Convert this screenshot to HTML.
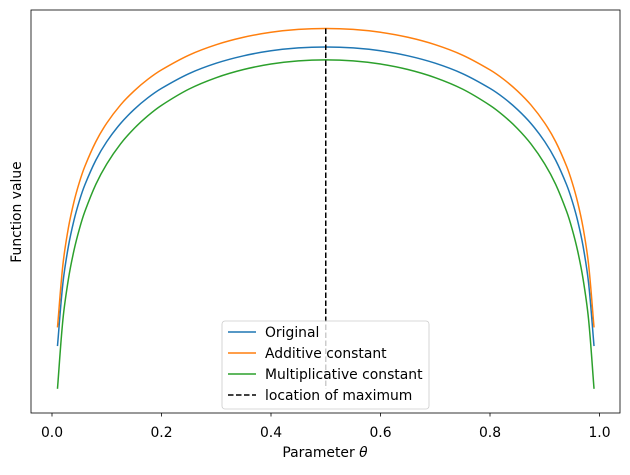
<!DOCTYPE html>
<html><head><meta charset="utf-8"><style>
body{margin:0;background:#fff}
svg text{font-family:"DejaVu Sans","Liberation Sans",sans-serif;font-size:13.9px;fill:#000}
</style></head><body>
<svg id="chart" width="630" height="470" xmlns="http://www.w3.org/2000/svg">
<rect x="31" y="10" width="589" height="403" fill="none" stroke="#000" stroke-width="0.8"/>
<g id="curves"></g>
<g id="xticks"></g>
<text x="325" y="457" text-anchor="middle">Parameter <tspan font-style="italic">θ</tspan></text>
<text transform="translate(21,212) rotate(-90)" text-anchor="middle">Function value</text>
<g>
<rect x="222" y="321" width="207" height="88" rx="3" fill="#fff" fill-opacity="0.8" stroke="#ccc" stroke-width="0.8"/>
<line x1="228" y1="332" x2="256" y2="332" stroke="#1f77b4" stroke-width="1.5"/>
<text x="265" y="337">Original</text>
<line x1="228" y1="353" x2="256" y2="353" stroke="#ff7f0e" stroke-width="1.5"/>
<text x="265" y="358">Additive constant</text>
<line x1="228" y1="374" x2="256" y2="374" stroke="#2ca02c" stroke-width="1.5"/>
<text x="265" y="379">Multiplicative constant</text>
<line x1="228" y1="395" x2="256" y2="395" stroke="#000" stroke-width="1.5" stroke-dasharray="5.5,2.5"/>
<text x="265" y="400">location of maximum</text>
</g>
</svg>
<script>
const thetaHalf = [0.01,0.02,0.03,0.04,0.05,0.06,0.08,0.1,0.125,0.15,0.175,0.2,0.25,0.3,0.35,0.4,0.45,0.5];
const originalHalf = [-4.615,-3.932,-3.537,-3.260,-3.047,-2.875,-2.609,-2.408,-2.213,-2.060,-1.935,-1.833,-1.674,-1.561,-1.481,-1.427,-1.396,-1.386];
const additiveHalf = [-4.415,-3.732,-3.337,-3.060,-2.847,-2.675,-2.409,-2.208,-2.013,-1.860,-1.735,-1.633,-1.474,-1.361,-1.281,-1.227,-1.196,-1.186];
const multiplicativeHalf = [-5.077,-4.325,-3.891,-3.586,-3.352,-3.163,-2.870,-2.649,-2.434,-2.266,-2.129,-2.016,-1.841,-1.717,-1.629,-1.570,-1.536,-1.525];
const xTicks = [0.0,0.2,0.4,0.6,0.8,1.0];
const xTickLabels = ["0.0","0.2","0.4","0.6","0.8","1.0"];
const maxLoc = 0.5;

const X = v => 52 + v*547.5;
const Y = v => 47 + (-1.386 - v)*92.6;
const svgNS = "http://www.w3.org/2000/svg";
function full(half){ return half.concat(half.slice(0,-1).reverse()); }
const thetas = thetaHalf.concat(thetaHalf.slice(0,-1).reverse().map(t=>+(1-t).toFixed(4)));
function pathFor(vals){
  const p = thetas.map((t,i)=>[X(t),Y(vals[i])]);
  let d = "M"+p[0][0]+","+p[0][1];
  for(let i=0;i<p.length-1;i++){
    const p0=p[Math.max(i-1,0)],p1=p[i],p2=p[i+1],p3=p[Math.min(i+2,p.length-1)];
    const d1=Math.hypot(p2[0]-p1[0],p2[1]-p1[1]);
    const da=Math.hypot(p2[0]-p0[0],p2[1]-p0[1])||1;
    const db=Math.hypot(p3[0]-p1[0],p3[1]-p1[1])||1;
    const c1=[p1[0]+(p2[0]-p0[0])/da*d1/3,p1[1]+(p2[1]-p0[1])/da*d1/3];
    const c2=[p2[0]-(p3[0]-p1[0])/db*d1/3,p2[1]-(p3[1]-p1[1])/db*d1/3];
    d+=" C"+c1+" "+c2+" "+p2;
  }
  return d;
}
const g = document.getElementById("curves");
[[originalHalf,"#1f77b4","original-curve"],[additiveHalf,"#ff7f0e","additive-curve"],[multiplicativeHalf,"#2ca02c","multiplicative-curve"]].forEach(s=>{
  const el = document.createElementNS(svgNS,"path");
  el.setAttribute("d",pathFor(full(s[0])));
  el.setAttribute("fill","none");
  el.setAttribute("stroke",s[1]);
  el.setAttribute("stroke-width","1.5");
  
  
  g.appendChild(el);
});
const vl = document.createElementNS(svgNS,"line");
vl.setAttribute("x1",X(maxLoc));vl.setAttribute("x2",X(maxLoc));
vl.setAttribute("y1",Y(Math.max(...additiveHalf)));vl.setAttribute("y2",Y(Math.min(...multiplicativeHalf)));
vl.setAttribute("stroke","#000");vl.setAttribute("stroke-width","1.5");vl.setAttribute("stroke-dasharray","5.5,2.5");


g.appendChild(vl);
const xt = document.getElementById("xticks");
xTicks.forEach((t,i)=>{
  const l = document.createElementNS(svgNS,"line");
  l.setAttribute("x1",X(t));l.setAttribute("x2",X(t));l.setAttribute("y1",413);l.setAttribute("y2",416.5);
  l.setAttribute("stroke","#000");l.setAttribute("stroke-width","0.8");
  
  
  xt.appendChild(l);
  const tx = document.createElementNS(svgNS,"text");
  tx.setAttribute("x",X(t));tx.setAttribute("y",437);tx.setAttribute("text-anchor","middle");
  tx.textContent = xTickLabels[i];
  
  
  xt.appendChild(tx);
});
</script>
</body></html>
